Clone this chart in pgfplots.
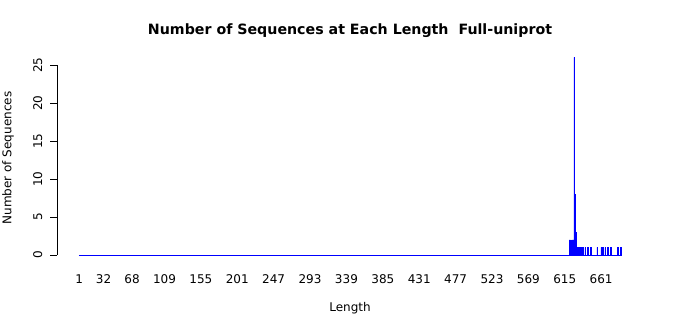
\documentclass[border=0pt]{standalone}
\usepackage{fontspec}
\setmainfont{DejaVu Sans}
\usepackage{pgfplots}
\pgfplotsset{compat=1.18}
\begin{document}
\begin{tikzpicture}[x=1pt,y=1pt]
\begin{axis}[
  at={(57pt,52pt)}, anchor=south west,
  scale only axis, width=586pt, height=213.5pt,
  xmin=-26.94, xmax=713.94, ymin=-1.04, ymax=27.04,
  axis lines*=left, axis line style={draw=none},
  xtick={1,32,68,109,155,201,247,293,339,385,431,477,523,569,615,661},
  ytick={0,5,10,15,20,25},
  major x tick style={draw=none},
  major y tick style={black, line width=0.8pt},
  tick align=outside, major tick length=7pt,
  ticklabel style={font=\fontsize{12}{14}\selectfont},
  /pgf/number format/assume math mode=true,
  xticklabel style={anchor=base, yshift=-14pt},
  yticklabel style={rotate=90, anchor=base, yshift=8pt},
  clip=false,
]
\addplot[blue, line width=0.75pt] coordinates {(0.58,0) (686.42,0)};
\addplot[ybar, bar width=0.85, fill=blue, draw=blue, line width=0.5pt] coordinates {
(621,2) (622,2) (623,1) (624,2) (625,2) (626,2) (627,26) (628,8) (629,3) (630,1)
(631,1) (633,1) (635,1) (637,1) (638,1) (641,1) (644,1) (648,1) (656,1) (661,1)
(663,1) (666,1) (669,1) (673,1) (682,1) (686,1)
};
\draw[black, line width=0.8pt] ({rel axis cs:0,0}|-{axis cs:0,0}) -- ({rel axis cs:0,0}|-{axis cs:0,25});
\end{axis}
\node[font=\bfseries\fontsize{14.2}{17}\selectfont, anchor=base] at (350pt,280pt) {Number of Sequences at Each Length~~Full-uniprot};
\node[font=\fontsize{12}{14}\selectfont, rotate=90, anchor=center] at (8pt,157pt) {Number of Sequences};
\node[font=\fontsize{12}{14}\selectfont, anchor=base] at (350pt,3.5pt) {Length};
\pgfresetboundingbox
\useasboundingbox (0,0) rectangle (700pt,315pt);
\end{tikzpicture}
\end{document}
